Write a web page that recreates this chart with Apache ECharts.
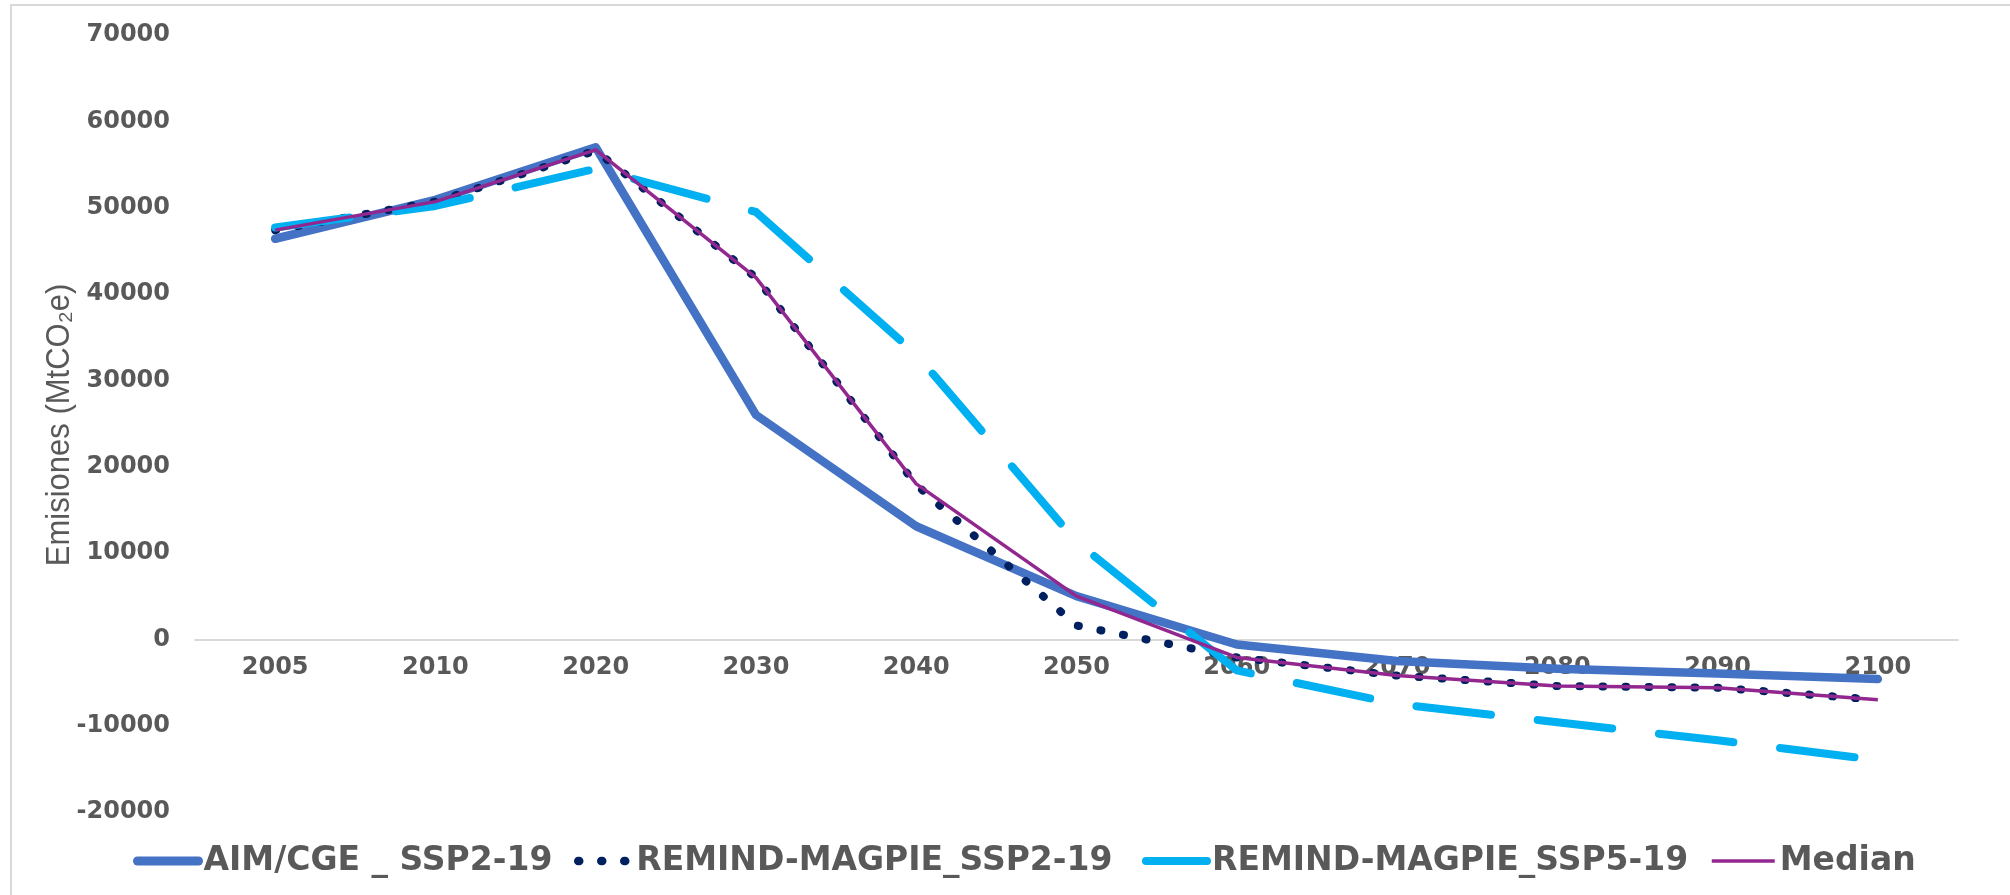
<!DOCTYPE html>
<html>
<head>
<meta charset="utf-8">
<title>Emisiones</title>
<script src="https://cdn.jsdelivr.net/npm/echarts@6/dist/echarts.min.js"></script>
<style>
  html, body { margin: 0; padding: 0; background: #ffffff; }
  #chart { width: 2010px; height: 895px; }
</style>
</head>
<body>
<div id="chart"></div>
<script>
// Years on the category axis
const years = ['2005', '2010', '2020', '2030', '2040', '2050', '2060', '2070', '2080', '2090', '2100'];

// Emission pathways (MtCO2e)
const aimCgeSsp2 = [46400, 50900, 57000, 26000, 13100, 5000, -600, -2500, -3400, -3950, -4600];
const remindSsp2 = [47400, 50700, 56600, 41900, 17900, 1600, -2100, -4200, -5400, -5600, -7000];
const remindSsp5 = [47700, 50200, 54500, 49500, 33000, 11300, -3600, -7500, -9600, -11700, -14000];
const median     = [47400, 50700, 56700, 41900, 18000, 5000, -2100, -4200, -5400, -5600, -7000];

// Value axis ticks
const yMin = -20000;
const yMax = 70000;
const yStep = 10000;

const seriesNames = ['AIM/CGE _ SSP2-19', 'REMIND-MAGPIE_SSP2-19', 'REMIND-MAGPIE_SSP5-19', 'Median'];
const yTitle = 'Emisiones (MtCO₂e)';

// Layout
const W = 2010, H = 895;
const grid = { left: 195, right: 52, top: 35, bottom: 83 };
const plotH = H - grid.top - grid.bottom;
// the category axis sits on the zero line
const xAxisLift = plotH * (0 - yMin) / (yMax - yMin);

const textGrey = '#595959';
const tickFont = { fontFamily: 'DejaVu Sans', fontWeight: 'bold', fontSize: 24, color: textGrey };
const legendFont = { fontFamily: 'DejaVu Sans', fontWeight: 'bold', fontSize: 33, lineHeight: 34, color: textGrey };

const colors = ['#4472C4', '#002060', '#00B0F0', '#92278F'];
const dotDash = [1, 22];
const longDash = [75, 47];

// one legend block per entry so each sits at its own place in the row
const legendSpecs = [
  { left: 133, width: 61, lineStyle: { width: 9, cap: 'round', type: 'solid' } },
  { left: 574, width: 53, lineStyle: { width: 8.5, cap: 'round', type: dotDash } },
  { left: 1142, width: 61, lineStyle: { width: 8, cap: 'round', type: 'solid' } },
  { left: 1710, width: 63, lineStyle: { width: 3.5, cap: 'butt', type: 'solid' } }
];

const legends = legendSpecs.map((spec, i) => ({
  left: spec.left,
  top: 844,
  padding: 0,
  itemWidth: spec.width,
  itemHeight: 10,
  selectedMode: false,
  textStyle: legendFont,
  data: [{
    name: seriesNames[i],
    lineStyle: Object.assign({ color: colors[i] }, spec.lineStyle),
    itemStyle: { opacity: 0 }
  }]
}));

const chart = echarts.init(document.getElementById('chart'), null, { renderer: 'canvas', width: W, height: H });

chart.setOption({
  backgroundColor: '#ffffff',
  animation: false,
  graphic: [
    {
      type: 'rect',
      silent: true,
      z: -1,
      shape: { x: 11, y: 5, width: 2100, height: 1000 },
      style: { fill: 'none', stroke: '#d9d9d9', lineWidth: 2 }
    },
    {
      type: 'text',
      silent: true,
      x: 60,
      y: 425,
      rotation: Math.PI / 2,
      scaleY: 1.05,
      style: {
        text: yTitle,
        font: '31px "Liberation Sans", Arial, sans-serif',
        fill: textGrey,
        align: 'center',
        verticalAlign: 'middle'
      }
    }
  ],
  grid: Object.assign({ containLabel: false }, grid),
  legend: legends,
  xAxis: {
    type: 'category',
    data: years,
    boundaryGap: true,
    offset: -xAxisLift,
    axisLine: { onZero: false, lineStyle: { color: '#d9d9d9', width: 2 } },
    axisTick: { show: false },
    axisLabel: Object.assign({ interval: 0, margin: 16 }, tickFont),
    splitLine: { show: false }
  },
  yAxis: {
    type: 'value',
    min: yMin,
    max: yMax,
    interval: yStep,
    axisLine: { show: false },
    axisTick: { show: false },
    splitLine: { show: false },
    axisLabel: Object.assign({ margin: 25, formatter: v => String(v) }, tickFont)
  },
  series: [
    {
      name: seriesNames[0],
      type: 'line',
      data: aimCgeSsp2,
      symbol: 'none',
      color: colors[0],
      lineStyle: { color: colors[0], width: 8.5, cap: 'round', join: 'round' }
    },
    {
      name: seriesNames[1],
      type: 'line',
      data: remindSsp2,
      symbol: 'none',
      color: colors[1],
      lineStyle: { color: colors[1], width: 8, cap: 'round', join: 'round', type: dotDash }
    },
    {
      name: seriesNames[2],
      type: 'line',
      data: remindSsp5,
      symbol: 'none',
      color: colors[2],
      lineStyle: { color: colors[2], width: 8, cap: 'round', join: 'round', type: longDash }
    },
    {
      name: seriesNames[3],
      type: 'line',
      data: median,
      symbol: 'none',
      color: colors[3],
      lineStyle: { color: colors[3], width: 3.5, join: 'round' }
    }
  ]
});
</script>
</body>
</html>
